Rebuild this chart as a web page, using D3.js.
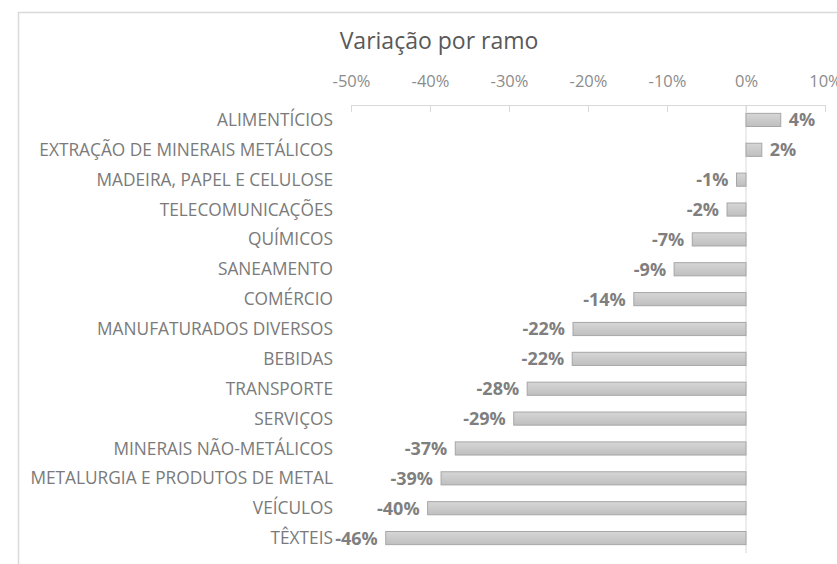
<!DOCTYPE html>
<html>
<head>
<meta charset="utf-8">
<script src="https://cdn.jsdelivr.net/npm/d3@7"></script>
<style>
  body { margin: 0; background: #fff; }
  svg { display: block; font-family: "Open Sans", sans-serif; }
</style>
</head>
<body>
<div id="chart"></div>
<script>
// ramos, na ordem do gráfico (de cima para baixo)
var categories = [
  "ALIMENTÍCIOS",
  "EXTRAÇÃO DE MINERAIS METÁLICOS",
  "MADEIRA, PAPEL E CELULOSE",
  "TELECOMUNICAÇÕES",
  "QUÍMICOS",
  "SANEAMENTO",
  "COMÉRCIO",
  "MANUFATURADOS DIVERSOS",
  "BEBIDAS",
  "TRANSPORTE",
  "SERVIÇOS",
  "MINERAIS NÃO-METÁLICOS",
  "METALURGIA E PRODUTOS DE METAL",
  "VEÍCULOS",
  "TÊXTEIS"
];
var variacao = [0.044, 0.02, -0.012, -0.024, -0.068, -0.091, -0.142, -0.219, -0.22,
                -0.277, -0.294, -0.368, -0.386, -0.403, -0.456];
var tickValues = [-0.5, -0.4, -0.3, -0.2, -0.1, 0, 0.1];

var W = 837, H = 564;
var svg = d3.select("#chart").append("svg")
  .attr("width", W)
  .attr("height", H);

var defs = svg.append("defs");
var grad = defs.append("linearGradient")
  .attr("id", "barGrad")
  .attr("x1", 0).attr("y1", 0).attr("x2", 0).attr("y2", 1);
grad.append("stop").attr("offset", "0%").attr("stop-color", "#d6d6d6");
grad.append("stop").attr("offset", "100%").attr("stop-color", "#bfbfbf");

// borda da área do gráfico
svg.append("path")
  .attr("d", "M18.5," + H + "V12.5H" + W)
  .attr("fill", "none")
  .attr("stroke", "#d9d9d9")
  .attr("stroke-width", 1.5);

var x = d3.scaleLinear().domain([-0.5, 0.1]).range([351, 825]);
var y = d3.scaleBand().domain(categories).range([105, 553])
  .paddingInner(0.56).paddingOuter(0.28);

// título
svg.append("text")
  .attr("x", 439)
  .attr("y", 49)
  .attr("text-anchor", "middle")
  .attr("font-size", "23px")
  .attr("fill", "#595959")
  .text("Variação por ramo");

// eixo superior
var axis = svg.append("g")
  .attr("transform", "translate(0,105)")
  .call(d3.axisTop(x).tickValues(tickValues).tickFormat(d3.format(".0%")).tickSize(-7).tickPadding(0));
axis.select(".domain").attr("stroke", "#d9d9d9").attr("d", "M" + x(-0.5) + ",0.5H" + x(0.1));
axis.selectAll(".tick line").attr("stroke", "#d9d9d9");
axis.selectAll(".tick text")
  .attr("y", -18)
  .attr("font-size", "16.5px")
  .attr("font-family", "Open Sans, sans-serif")
  .attr("fill", "#8c8c8c")
  .text(function(d) { return Math.round(d * 100) + "%"; });

// linha do zero
svg.append("line")
  .attr("x1", x(0)).attr("x2", x(0))
  .attr("y1", 105).attr("y2", 553)
  .attr("stroke", "#d9d9d9");

// barras
svg.append("g").selectAll("rect")
  .data(variacao)
  .enter()
  .append("rect")
  .attr("x", function(d) { return Math.min(x(d), x(0)); })
  .attr("y", function(d, i) { return y(categories[i]); })
  .attr("width", function(d) { return Math.abs(x(d) - x(0)); })
  .attr("height", y.bandwidth())
  .attr("fill", "url(#barGrad)")
  .attr("stroke", "#a6a6a6")
  .attr("stroke-width", 1);

// rótulos das categorias
svg.append("g").selectAll("text")
  .data(categories)
  .enter()
  .append("text")
  .attr("x", 333)
  .attr("y", function(d) { return y(d) + y.bandwidth() / 2; })
  .attr("dy", "0.35em")
  .attr("text-anchor", "end")
  .attr("font-size", "17.3px")
  .attr("fill", "#7a7a7a")
  .text(function(d) { return d; });

// rótulos de valor
svg.append("g").selectAll("text")
  .data(variacao)
  .enter()
  .append("text")
  .attr("x", function(d) { return d < 0 ? x(d) - 8 : x(d) + 8; })
  .attr("y", function(d, i) { return y(categories[i]) + y.bandwidth() / 2; })
  .attr("dy", "0.36em")
  .attr("text-anchor", function(d) { return d < 0 ? "end" : "start"; })
  .attr("font-size", "18px")
  .attr("font-weight", "bold")
  .attr("fill", "#7f7f7f")
  .text(function(d) { return Math.round(d * 100) + "%"; });
</script>
</body>
</html>
